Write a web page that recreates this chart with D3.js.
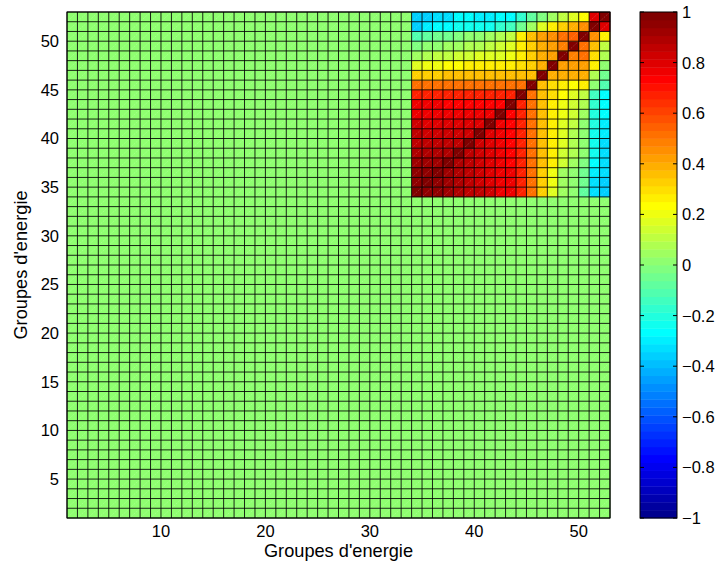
<!DOCTYPE html>
<html><head><meta charset="utf-8">
<script src="https://cdn.jsdelivr.net/npm/d3@7"></script>
<style>body{margin:0;background:#fff} text{font-family:"Liberation Sans",Arial,Helvetica,sans-serif;fill:#000}</style>
</head><body><svg id="c" width="720" height="565"></svg>
<script>
// ---- data ----
const gridMin = 1, gridMax = 53;          // pcolor grid 1..53 (52x52 cells)
const blockStart = 34;                    // first energy group of the correlated block
const xTicks = [10, 20, 30, 40, 50];
const yTicks = [5, 10, 15, 20, 25, 30, 35, 40, 45, 50];
const cbTicks = [-1, -0.8, -0.6, -0.4, -0.2, 0, 0.2, 0.4, 0.6, 0.8, 1];
const xLabel = "Groupes d'energie";
const yLabel = "Groupes d'energie";
// correlation rows for groups 34..52 (columns = groups 34..52)
const row34 = [1.00, 0.96, 0.94, 0.91, 0.90, 0.87, 0.85, 0.82, 0.78, 0.75, 0.67, 0.50, 0.32, 0.18, 0.05, 0.00, -0.07, -0.33, -0.36];
const row35 = [0.96, 1.00, 0.95, 0.93, 0.90, 0.87, 0.84, 0.80, 0.78, 0.75, 0.67, 0.50, 0.32, 0.20, 0.06, 0.02, -0.05, -0.32, -0.35];
const row36 = [0.94, 0.95, 1.00, 0.92, 0.90, 0.87, 0.84, 0.80, 0.78, 0.75, 0.67, 0.50, 0.32, 0.20, 0.06, 0.02, -0.05, -0.30, -0.34];
const row37 = [0.91, 0.93, 0.92, 1.00, 0.90, 0.85, 0.82, 0.80, 0.77, 0.74, 0.67, 0.50, 0.35, 0.25, 0.14, 0.06, -0.02, -0.27, -0.33];
const row38 = [0.90, 0.90, 0.90, 0.90, 1.00, 0.86, 0.82, 0.80, 0.77, 0.74, 0.67, 0.50, 0.35, 0.26, 0.15, 0.07, 0.00, -0.25, -0.32];
const row39 = [0.87, 0.87, 0.87, 0.85, 0.86, 1.00, 0.84, 0.80, 0.78, 0.74, 0.67, 0.50, 0.35, 0.27, 0.16, 0.08, 0.01, -0.24, -0.32];
const row40 = [0.85, 0.84, 0.84, 0.82, 0.82, 0.84, 1.00, 0.80, 0.78, 0.74, 0.67, 0.50, 0.36, 0.27, 0.17, 0.09, 0.02, -0.24, -0.31];
const row41 = [0.82, 0.80, 0.80, 0.80, 0.80, 0.80, 0.80, 1.00, 0.76, 0.72, 0.67, 0.50, 0.36, 0.28, 0.18, 0.11, 0.03, -0.21, -0.29];
const row42 = [0.78, 0.78, 0.78, 0.77, 0.77, 0.78, 0.78, 0.76, 1.00, 0.72, 0.67, 0.50, 0.36, 0.28, 0.19, 0.13, 0.05, -0.19, -0.28];
const row43 = [0.75, 0.75, 0.75, 0.74, 0.74, 0.74, 0.74, 0.72, 0.72, 1.00, 0.67, 0.50, 0.36, 0.28, 0.20, 0.15, 0.07, -0.18, -0.27];
const row44 = [0.67, 0.67, 0.67, 0.67, 0.67, 0.67, 0.67, 0.67, 0.67, 0.67, 1.00, 0.50, 0.36, 0.30, 0.22, 0.18, 0.10, -0.15, -0.26];
const row45 = [0.50, 0.50, 0.50, 0.50, 0.50, 0.50, 0.50, 0.50, 0.50, 0.50, 0.50, 1.00, 0.36, 0.30, 0.28, 0.22, 0.26, 0.00, -0.10];
const row46 = [0.32, 0.32, 0.33, 0.35, 0.35, 0.35, 0.36, 0.36, 0.36, 0.36, 0.36, 0.36, 1.00, 0.38, 0.38, 0.38, 0.40, 0.08, -0.05];
const row47 = [0.16, 0.19, 0.21, 0.23, 0.24, 0.26, 0.26, 0.27, 0.27, 0.27, 0.30, 0.32, 0.38, 1.00, 0.42, 0.43, 0.43, 0.25, 0.03];
const row48 = [0.04, 0.07, 0.10, 0.12, 0.14, 0.15, 0.16, 0.17, 0.18, 0.20, 0.25, 0.33, 0.38, 0.42, 1.00, 0.47, 0.50, 0.30, 0.08];
const row49 = [-0.02, 0.00, 0.02, 0.04, 0.06, 0.07, 0.09, 0.11, 0.14, 0.18, 0.27, 0.32, 0.38, 0.42, 0.47, 1.00, 0.52, 0.36, 0.12];
const row50 = [-0.10, -0.08, -0.06, -0.04, -0.02, 0.00, 0.01, 0.04, 0.08, 0.10, 0.25, 0.36, 0.42, 0.44, 0.50, 0.54, 1.00, 0.46, 0.25];
const row51 = [-0.36, -0.30, -0.27, -0.26, -0.25, -0.24, -0.24, -0.22, -0.18, -0.14, -0.06, 0.04, 0.17, 0.27, 0.33, 0.38, 0.46, 1.00, 0.80];
const row52 = [-0.36, -0.35, -0.33, -0.32, -0.28, -0.28, -0.30, -0.31, -0.27, -0.26, -0.18, -0.08, -0.02, 0.04, 0.10, 0.16, 0.24, 0.80, 1.00];
const corrRows = [row34, row35, row36, row37, row38, row39, row40, row41, row42, row43,
                  row44, row45, row46, row47, row48, row49, row50, row51, row52];

// ---- MATLAB jet(64) colormap ----
function jet(m) {
  const n = Math.ceil(m / 4);
  const u = [];
  for (let i = 1; i <= n; i++) u.push(i / n);
  for (let i = 1; i < n; i++) u.push(1);
  for (let i = n; i >= 1; i--) u.push(i / n);
  const g0 = Math.ceil(n / 2) - (m % 4 === 1 ? 1 : 0);
  const J = d3.range(m).map(() => [0, 0, 0]);
  u.forEach((val, k) => {
    const g = g0 + k + 1, r = g + n, b = g - n;
    if (r <= m) J[r - 1][0] = val;
    if (g <= m) J[g - 1][1] = val;
    if (b >= 1) J[b - 1][2] = val;
  });
  return J.map(c => d3.rgb(c[0] * 255, c[1] * 255, c[2] * 255).formatHex());
}
const colors = jet(64);
const color = d3.scaleQuantize().domain([-1, 1]).range(colors);

function value(gx, gy) {
  if (gx >= blockStart && gy >= blockStart) return corrRows[gy - blockStart][gx - blockStart];
  return 0;
}

// ---- layout ----
const svg = d3.select("#c");
const L = 67, R = 610, T = 12, B = 518;
const x = d3.scaleLinear().domain([gridMin, gridMax]).range([L, R]);
const y = d3.scaleLinear().domain([gridMin, gridMax]).range([B, T]);

const cells = [];
for (let j = gridMin; j < gridMax; j++)
  for (let i = gridMin; i < gridMax; i++) cells.push({ i, j, v: value(i, j) });

svg.append("g").selectAll("rect").data(cells).join("rect")
  .attr("x", d => x(d.i)).attr("y", d => y(d.j + 1))
  .attr("width", d => x(d.i + 1) - x(d.i) + 0.3)
  .attr("height", d => y(d.j) - y(d.j + 1) + 0.3)
  .attr("fill", d => color(d.v));

// faint diagonal rendering artefacts
const diag = d3.path();
cells.forEach(d => { diag.moveTo(x(d.i) + 1, y(d.j) - 1); diag.lineTo(x(d.i + 1) - 1, y(d.j + 1) + 1); });
svg.append("path").attr("d", diag.toString()).attr("stroke", "#fff")
  .attr("stroke-opacity", 0.28).attr("stroke-width", 0.8).attr("stroke-dasharray", "1.2,1.2").attr("fill", "none");

// cell edges
const grid = d3.range(gridMin, gridMax + 1);
const gp = d3.path();
grid.forEach(g => { gp.moveTo(x(g), T); gp.lineTo(x(g), B); gp.moveTo(L, y(g)); gp.lineTo(R, y(g)); });
svg.append("path").attr("d", gp.toString()).attr("stroke", "#000").attr("stroke-width", 1).attr("stroke-opacity", 0.85).attr("fill", "none");

svg.append("rect").attr("x", L).attr("y", T).attr("width", R - L).attr("height", B - T)
  .attr("fill", "none").attr("stroke", "#000").attr("stroke-width", 1);

const fs = 16.5, lfs = 18.2;
// x tick labels
svg.append("g").selectAll("text").data(xTicks).join("text")
  .attr("x", d => x(d)).attr("y", 537).attr("text-anchor", "middle")
  .attr("font-size", fs).text(d => d);
// y tick labels
svg.append("g").selectAll("text").data(yTicks).join("text")
  .attr("x", 59).attr("y", d => y(d)).attr("dy", "0.36em").attr("text-anchor", "end")
  .attr("font-size", fs).text(d => d);
// axis labels
svg.append("text").attr("x", (L + R) / 2).attr("y", 557).attr("text-anchor", "middle")
  .attr("font-size", lfs).text(xLabel);
svg.append("text").attr("transform", `translate(27,${(T + B) / 2}) rotate(-90)`)
  .attr("text-anchor", "middle").attr("font-size", lfs).text(yLabel);

// ---- colorbar ----
const cL = 640, cR = 677;
const cy = d3.scaleLinear().domain([-1, 1]).range([B, T]);
const bands = d3.range(64).map(k => ({ v0: -1 + k * 2 / 64, v1: -1 + (k + 1) * 2 / 64, c: colors[k] }));
svg.append("g").selectAll("rect").data(bands).join("rect")
  .attr("x", cL).attr("width", cR - cL)
  .attr("y", d => cy(d.v1)).attr("height", d => cy(d.v0) - cy(d.v1) + 0.4)
  .attr("fill", d => d.c);
svg.append("rect").attr("x", cL).attr("y", T).attr("width", cR - cL).attr("height", B - T)
  .attr("fill", "none").attr("stroke", "#000").attr("stroke-width", 1);
const tk = d3.path();
cbTicks.forEach(t => { tk.moveTo(cL, cy(t)); tk.lineTo(cL + 4, cy(t)); tk.moveTo(cR, cy(t)); tk.lineTo(cR - 4, cy(t)); });
svg.append("path").attr("d", tk.toString()).attr("stroke", "#000").attr("stroke-width", 1);
const fmt = d => (d < 0 ? "\u2212" : "") + d3.format("")(Math.abs(+d.toFixed(1)));
svg.append("g").selectAll("text").data(cbTicks).join("text")
  .attr("x", 682).attr("y", d => cy(d)).attr("dy", "0.36em")
  .attr("font-size", fs).text(fmt);
</script></body></html>
